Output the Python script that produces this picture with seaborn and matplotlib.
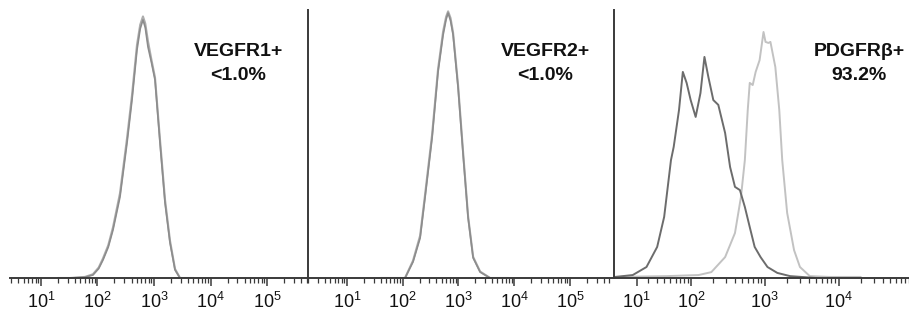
import matplotlib
matplotlib.use("Agg")
import matplotlib.pyplot as plt
from matplotlib.ticker import NullFormatter
import seaborn as sns

# ── Data (fluorescence intensity vs. % of max) ──
# Panel 1 - VEGFR1 (isotype and stained overlap almost completely)
p1_x = [20, 33, 60, 83, 105, 125, 155, 188, 250, 333, 408, 500, 570, 638, 700, 783, 900, 1042,
        1277, 1567, 1920, 2355, 2884, 5000]
p1_iso = [0, 0, 0.3, 1.1, 3.5, 6.7, 11.5, 17.9, 30.2, 50.4, 66.4, 85.1, 93.0, 96.3, 93.5, 86.2,
          80.5, 73.9, 50.4, 28.0, 13.1, 3.0, 0, 0]
p1_stain = [0, 0, 0.4, 1.4, 3.9, 7.3, 12.2, 18.9, 31.6, 52.1, 68.2, 87.0, 94.5, 97.6, 95.0, 88.3,
            81.5, 74.8, 51.6, 29.2, 13.9, 3.4, 0, 0]

# Panel 2 - VEGFR2
p2_x = [40, 110, 153, 205, 251, 336, 430, 530, 600, 651, 720, 800, 984, 1211, 1487, 1830, 2443,
        3690, 8000]
p2_iso = [0, 0, 6.0, 14.9, 29.9, 52.2, 76.9, 90.7, 96.5, 98.9, 96.0, 90.7, 70.9, 45.9, 22.4, 7.5,
          2.2, 0, 0]
p2_stain = [0, 0, 6.5, 15.8, 31.0, 53.5, 78.0, 92.0, 97.5, 99.5, 97.0, 91.5, 71.8, 46.8, 23.0,
            7.9, 2.4, 0, 0]

# Panel 3 - PDGFRb (isotype dark, stained light)
p3_iso_x = [-7, 6.8, 18.9, 30.6, 40, 51, 56, 67, 76, 86, 98, 115, 134, 152, 172, 201, 235,
            291, 340, 396, 462, 539, 628, 732, 880, 1092, 1483, 2210, 5000]
p3_iso = [0.4, 1.1, 4.1, 11.6, 22.8, 44.0, 48.9, 62.7, 76.9, 72.8, 66.4, 60.1, 69.0, 82.5, 75.0,
          66.4, 64.6, 54.1, 41.4, 34.0, 32.8, 26.5, 19.0, 11.6, 7.8, 4.1, 1.9, 0.7, 0]
p3_stain_x = [-7, 43, 126, 189, 291, 396, 477, 539, 590, 628, 689, 755, 854, 965, 1027, 1125,
              1197, 1395, 1577, 1729, 2016, 2500, 3005, 4085, 7540, 20000]
p3_stain = [0.4, 0.7, 1.1, 2.2, 7.8, 16.8, 30.2, 44.0, 62.7, 72.8, 72.0, 76.9, 81.3, 91.8, 88.1,
            87.7, 88.1, 78.7, 62.7, 44.0, 24.3, 10.4, 4.1, 0.7, 0.4, 0.4]

labels_top = ["VEGFR1+", "VEGFR2+", "PDGFR\u03b2+"]
labels_pct = ["<1.0%", "<1.0%", "93.2%"]

decades_12 = [10, 100, 1000, 10000, 100000]
decades_3 = [10, 100, 1000, 10000]
minor_3 = [m * d for d in [10, 100, 1000, 10000] for m in range(2, 10)]

DARK = "#6c6c6c"
LIGHT = "#c2c2c2"
MID_A = "#8c8c8c"
MID_B = "#adadad"
AXIS = "#3a3a3a"

sns.set_style("white")
plt.rcParams["font.family"] = ["Liberation Sans", "DejaVu Sans"]

fig = plt.figure(figsize=(9.09, 3.13), dpi=100)
W, H = 909, 313


def add_ax(x0, x1):
    return fig.add_axes([x0 / W, (H - 278) / H, (x1 - x0) / W, 268 / H])


ax1 = add_ax(10, 307)
ax2 = add_ax(308, 613)
ax3 = add_ax(614, 909)

sns.lineplot(x=p1_x, y=p1_stain, ax=ax1, color=MID_B, linewidth=1.5, estimator=None)
sns.lineplot(x=p1_x, y=p1_iso, ax=ax1, color=MID_A, linewidth=1.2, estimator=None)
sns.lineplot(x=p2_x, y=p2_stain, ax=ax2, color=MID_B, linewidth=1.5, estimator=None)
sns.lineplot(x=p2_x, y=p2_iso, ax=ax2, color=MID_A, linewidth=1.2, estimator=None)
sns.lineplot(x=p3_stain_x, y=p3_stain, ax=ax3, color=LIGHT, linewidth=1.4, estimator=None)
sns.lineplot(x=p3_iso_x, y=p3_iso, ax=ax3, color=DARK, linewidth=1.4, estimator=None)

# first two panels: plain log axes, third: compressed low end (biexponential-like)
for ax, lim in [(ax1, (2.83, 5.1e5)), (ax2, (2.0, 5.9e5))]:
    ax.set_xscale("log")
    ax.set_xlim(*lim)
    ax.set_xticks(decades_12, [f"$\\mathregular{{10^{{{i + 1}}}}}$" for i in range(len(decades_12))])
    ax.xaxis.set_minor_formatter(NullFormatter())

ax3.set_xscale("asinh", linear_width=25)
ax3.set_xlim(-8, 83000)
ax3.set_xticks(decades_3, [f"$\\mathregular{{10^{{{i + 1}}}}}$" for i in range(len(decades_3))])
ax3.set_xticks(minor_3, minor=True)
ax3.xaxis.set_minor_formatter(NullFormatter())

text_x = [0.768, 0.777, 0.831]
for i, ax in enumerate([ax1, ax2, ax3]):
    ax.set_ylim(0, 100)
    ax.set_yticks([])
    ax.set_xlabel("")
    ax.set_ylabel("")
    ax.set_facecolor("none")
    ax.spines[["top", "right"]].set_visible(False)
    ax.spines["bottom"].set_color(AXIS)
    ax.spines["bottom"].set_linewidth(1.4)
    ax.spines["left"].set_color(AXIS)
    ax.spines["left"].set_linewidth(1.4)
    ax.tick_params(axis="x", which="both", bottom=True, direction="out", color=AXIS)
    ax.tick_params(axis="x", which="major", length=6, width=1.1,
                   labelsize=13, pad=4, labelcolor="#111111")
    ax.tick_params(axis="x", which="minor", length=3.5, width=0.9)
    ax.text(text_x[i], 0.847, labels_top[i], transform=ax.transAxes, ha="center", va="center",
            fontsize=14, fontweight="bold", color="#111111")
    ax.text(text_x[i], 0.754, labels_pct[i], transform=ax.transAxes, ha="center", va="center",
            fontsize=14, fontweight="bold", color="#111111")

ax1.spines["left"].set_visible(False)

fig.savefig("out.png", dpi=100)
